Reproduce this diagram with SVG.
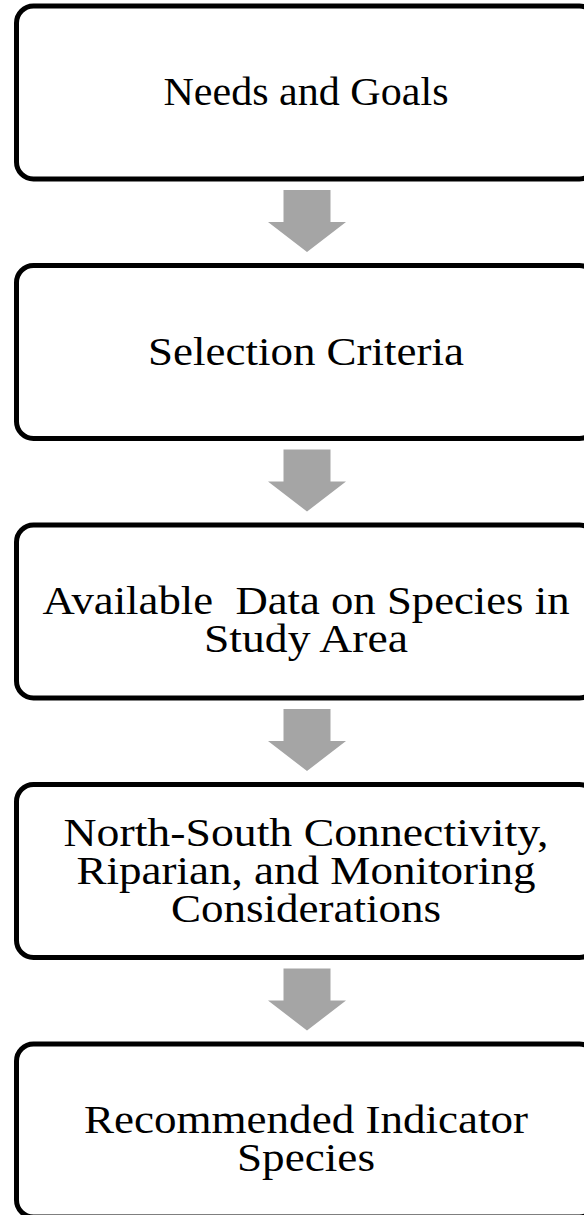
<svg xmlns="http://www.w3.org/2000/svg" width="584" height="1215" viewBox="0 0 584 1215">
<style>
.box{fill:#ffffff;stroke:#000000;stroke-width:5}
.arr{fill:#a5a5a5;stroke:none}
.t{font-family:"Liberation Serif","Times New Roman",Times,serif;font-size:39px;fill:#000000;text-anchor:middle}
</style>
<rect width="584" height="1215" fill="#ffffff"/>
<g id="connectors">
<path class="arr" d="M283.5,190 H330.5 V222 H346 L307,252 L268,222 H283.5 Z"/>
<path class="arr" d="M283.5,449.5 H330.5 V481.5 H346 L307,511.5 L268,481.5 H283.5 Z"/>
<path class="arr" d="M283.5,709 H330.5 V741 H346 L307,771 L268,741 H283.5 Z"/>
<path class="arr" d="M283.5,968.5 H330.5 V1000.5 H346 L307,1030.5 L268,1000.5 H283.5 Z"/>
</g>
<g id="node1">
<rect class="box" x="16.5" y="6" width="580" height="173" rx="17"/>
<text class="t" x="306" y="105" textLength="285" lengthAdjust="spacingAndGlyphs">Needs and Goals</text>
</g>
<g id="node2">
<rect class="box" x="16.5" y="265.5" width="580" height="173" rx="17"/>
<text class="t" x="306" y="364.5" textLength="316" lengthAdjust="spacingAndGlyphs">Selection Criteria</text>
</g>
<g id="node3">
<rect class="box" x="16.5" y="525" width="580" height="173" rx="17"/>
<text class="t" x="306" y="614" textLength="527" lengthAdjust="spacingAndGlyphs" xml:space="preserve">Available  Data on Species in</text>
<text class="t" x="306" y="652" textLength="204" lengthAdjust="spacingAndGlyphs">Study Area</text>
</g>
<g id="node4">
<rect class="box" x="16.5" y="784.5" width="580" height="173" rx="17"/>
<text class="t" x="306" y="846" textLength="485" lengthAdjust="spacingAndGlyphs">North-South Connectivity,</text>
<text class="t" x="306" y="884" textLength="459" lengthAdjust="spacingAndGlyphs">Riparian, and Monitoring</text>
<text class="t" x="306" y="922" textLength="270" lengthAdjust="spacingAndGlyphs">Considerations</text>
</g>
<g id="node5">
<rect class="box" x="16.5" y="1044" width="580" height="173" rx="17"/>
<text class="t" x="306" y="1133" textLength="444" lengthAdjust="spacingAndGlyphs">Recommended Indicator</text>
<text class="t" x="306" y="1171" textLength="138" lengthAdjust="spacingAndGlyphs">Species</text>
</g>
</svg>
